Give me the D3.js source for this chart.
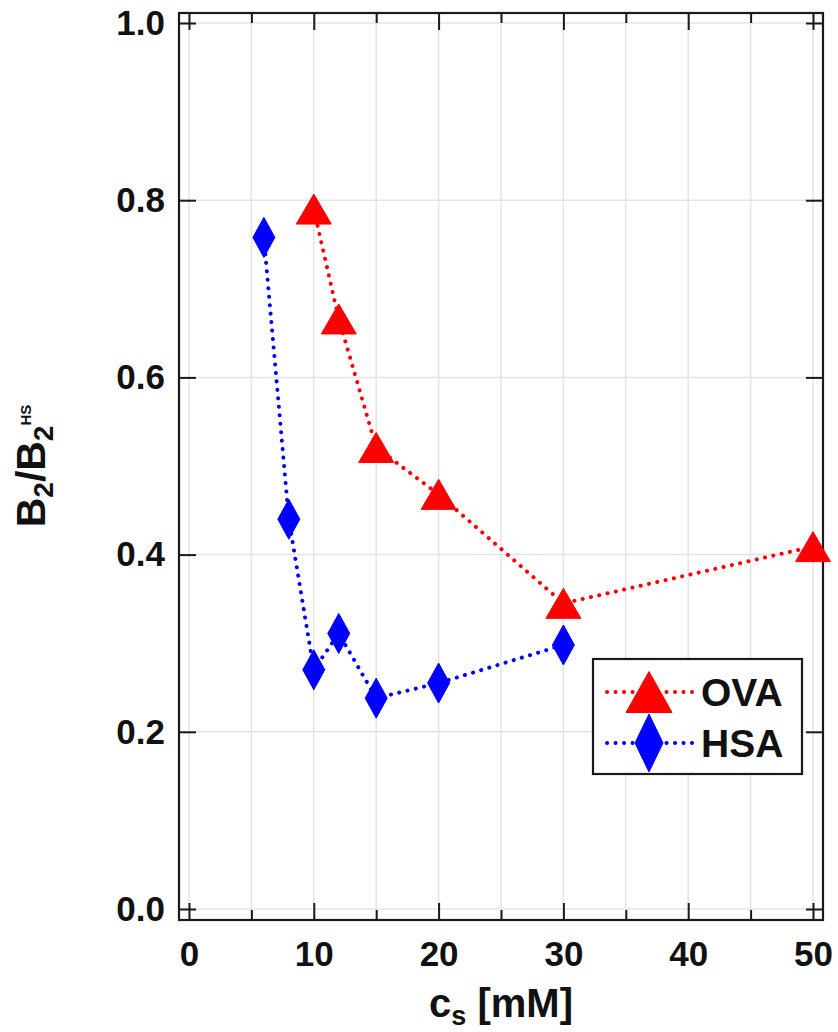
<!DOCTYPE html>
<html><head><meta charset="utf-8">
<script src="https://cdn.jsdelivr.net/npm/d3@7/dist/d3.min.js"></script>
<style>
html,body{margin:0;padding:0;background:#fff;}
svg{display:block;font-family:Arial,"Liberation Sans",Helvetica,sans-serif;}
</style></head>
<body><svg id="c" width="838" height="1032"></svg>
<script>
const ovaCs = [10, 12, 15, 20, 30, 50];
const ovaB2 = [0.790, 0.666, 0.521, 0.468, 0.345, 0.409];
const hsaCs = [6, 8, 10, 12, 15, 20, 30];
const hsaB2 = [0.758, 0.440, 0.270, 0.311, 0.238, 0.255, 0.298];
const xMajorTicks = [0, 10, 20, 30, 40, 50];
const xMinorTicks = [5, 15, 25, 35, 45];
const xGrid = [0, 5, 10, 15, 20, 25, 30, 35, 40, 45, 50];
const yTicks = [0, 0.2, 0.4, 0.6, 0.8, 1.0];
const seriesNames = ["OVA", "HSA"];

const L = 179, R = 823, T = 13, B = 920;
const svg = d3.select("#c");
const x = d3.scaleLinear().domain([-0.8, 50.8]).range([L, R]);
const y = d3.scaleLinear().domain([-0.0124, 1.0113]).range([B, T]);

// gridlines
const g = svg.append("g");
g.selectAll("line.vg").data(xGrid).enter().append("line")
  .attr("x1", d => x(d)).attr("x2", d => x(d)).attr("y1", T).attr("y2", B)
  .attr("stroke", "#e4e4e4").attr("stroke-width", 1.5);
g.selectAll("line.hg").data(yTicks).enter().append("line")
  .attr("x1", L).attr("x2", R).attr("y1", d => y(d)).attr("y2", d => y(d))
  .attr("stroke", "#e4e4e4").attr("stroke-width", 1.5);

function styleAxis(sel){
  sel.select(".domain").remove();
  sel.selectAll(".tick line").attr("stroke", "#1a1a1a").attr("stroke-width", 2);
  sel.selectAll(".tick text").attr("fill", "#111").attr("font-size", 35).attr("font-weight", "bold");
}
const fmt = d3.format(".1f");
// bottom
svg.append("g").attr("transform", `translate(0,${B})`)
  .call(d3.axisBottom(x).tickValues(xMajorTicks).tickSize(-17).tickPadding(21).tickFormat(d3.format("d")))
  .call(styleAxis);
svg.append("g").attr("transform", `translate(0,${B})`)
  .call(d3.axisBottom(x).tickValues(xMinorTicks).tickSize(-10).tickFormat(""))
  .call(styleAxis);
// top
svg.append("g").attr("transform", `translate(0,${T})`)
  .call(d3.axisTop(x).tickValues(xMajorTicks).tickSize(-17).tickFormat(""))
  .call(styleAxis);
svg.append("g").attr("transform", `translate(0,${T})`)
  .call(d3.axisTop(x).tickValues(xMinorTicks).tickSize(-10).tickFormat(""))
  .call(styleAxis);
// left
svg.append("g").attr("transform", `translate(${L},0)`)
  .call(d3.axisLeft(y).tickValues(yTicks).tickSize(-17).tickPadding(14).tickFormat(fmt))
  .call(styleAxis);
// right
svg.append("g").attr("transform", `translate(${R},0)`)
  .call(d3.axisRight(y).tickValues(yTicks).tickSize(-17).tickFormat(""))
  .call(styleAxis);

// box
svg.append("rect").attr("x", L).attr("y", T).attr("width", R - L).attr("height", B - T)
  .attr("fill", "none").attr("stroke", "#1a1a1a").attr("stroke-width", 2.2);

const tri = (w, h) => `M0,${-h/2}L${w/2},${h/2}L${-w/2},${h/2}Z`;
const dia = (w, h) => `M0,${-h/2}L${w/2},0L0,${h/2}L${-w/2},0Z`;

const series = [
  {name: seriesNames[0], xs: ovaCs, ys: ovaB2, color: "#ff0000", path: tri(35, 30), lpath: tri(46, 41)},
  {name: seriesNames[1], xs: hsaCs, ys: hsaB2, color: "#0000ff", path: dia(22, 40), lpath: dia(28, 58)}
];
const line = d3.line().x(d => x(d[0])).y(d => y(d[1]));
series.forEach(s => {
  const pts = s.xs.map((v, i) => [v, s.ys[i]]);
  svg.append("path").datum(pts).attr("d", line).attr("fill", "none")
    .attr("stroke", s.color).attr("stroke-width", 4)
    .attr("stroke-linecap", "round").attr("stroke-dasharray", "0.1 8.4");
});
series.forEach(s => {
  const pts = s.xs.map((v, i) => [v, s.ys[i]]);
  svg.selectAll(null).data(pts).enter().append("path")
    .attr("d", s.path).attr("transform", d => `translate(${x(d[0])},${y(d[1])})`)
    .attr("fill", s.color).attr("stroke", s.color).attr("stroke-width", 1);
});

// legend
const lg = svg.append("g");
lg.append("rect").attr("x", 593).attr("y", 659).attr("width", 209).attr("height", 115)
  .attr("fill", "#fff").attr("stroke", "#1a1a1a").attr("stroke-width", 2.2);
const ly = [692, 743];
series.forEach((s, i) => {
  lg.append("line").attr("x1", 607).attr("x2", 692).attr("y1", ly[i]).attr("y2", ly[i])
    .attr("stroke", s.color).attr("stroke-width", 4)
    .attr("stroke-linecap", "round").attr("stroke-dasharray", "0.1 8.4");
  lg.append("path").attr("d", s.lpath).attr("transform", `translate(649,${ly[i]})`)
    .attr("fill", s.color).attr("stroke", s.color).attr("stroke-width", 1);
  lg.append("text").attr("x", 701).attr("y", ly[i] + 14).attr("font-size", 39)
    .attr("font-weight", "bold").attr("fill", "#111").text(s.name);
});

// x label
const xl = svg.append("text").attr("x", 501).attr("y", 1017).attr("text-anchor", "middle")
  .attr("font-size", 40).attr("font-weight", "bold").attr("fill", "#111");
xl.append("tspan").text("c");
xl.append("tspan").attr("font-size", 27).attr("dy", 8).text("s");
xl.append("tspan").attr("dy", -8).text(" [mM]");

// y label
const yl = svg.append("text").attr("transform", "translate(45,466) rotate(-90)")
  .attr("text-anchor", "middle").attr("font-size", 41).attr("font-weight", "bold").attr("fill", "#111");
yl.append("tspan").text("B");
yl.append("tspan").attr("font-size", 28).attr("dy", 8).text("2");
yl.append("tspan").attr("dy", -8).text("/B");
yl.append("tspan").attr("font-size", 28).attr("dy", 8).text("2");
yl.append("tspan").attr("font-size", 15).attr("dy", -22).text("HS");
</script></body></html>
